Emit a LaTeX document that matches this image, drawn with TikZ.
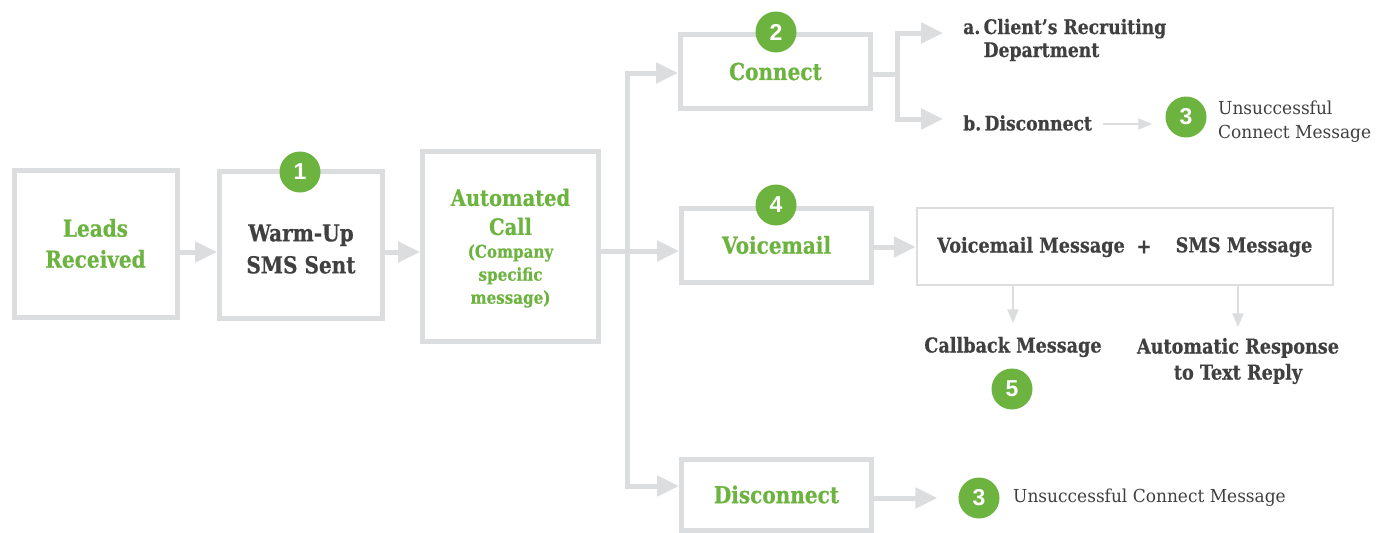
\documentclass[tikz,border=0pt]{standalone}
\usepackage{fontspec}
\setmainfont{DejaVu Serif}[FakeStretch=0.86, BoldFeatures={FakeBold=0.6}]
\newfontfamily\regfont{DejaVu Serif}[FakeStretch=0.95]
\newfontfamily\numfont{Liberation Sans}
\usetikzlibrary{arrows.meta,calc}
\definecolor{grn}{HTML}{6DB33F}
\definecolor{gry}{HTML}{DCDDDE}
\definecolor{txt}{HTML}{404040}
\tikzset{
  box/.style={draw=gry, line width=5pt, fill=white, inner sep=0pt, align=center},
  ttl/.style={text=grn, font=\bfseries\fontsize{23.3}{31}\selectfont, align=center},
  dk/.style={text=txt, font=\bfseries\fontsize{20.5}{26}\selectfont, inner sep=0pt, align=center},
  reg/.style={text=txt, font=\regfont\fontsize{17.9}{24}\selectfont, inner sep=0pt, align=left},
  num/.style={circle, fill=grn, minimum size=41pt, inner sep=0pt, text=white, font=\numfont\bfseries\fontsize{23}{23}\selectfont},
  gline/.style={draw=gry, line width=5pt},
  arr/.style={draw=gry, line width=5pt, -{Triangle[length=22pt,width=20pt]}},
  tarr/.style={draw=gry, line width=2pt, -{Triangle[length=14pt,width=11pt]}}
}
\begin{document}
\begin{tikzpicture}[x=1pt,y=-1pt]
\useasboundingbox[fill=white] (0,0) rectangle (1385,533);

% main boxes
\node[box, minimum width=163pt, minimum height=147pt, ttl] (leads) at (95.5,243.5) {Leads\\Received};
\node[box, minimum width=163pt, minimum height=147pt] (warm) at (301,245) {};
\node[text=txt, font=\bfseries\fontsize{23.3}{32}\selectfont, align=center, inner sep=0pt] (warmt) at (301,249) {Warm-Up\\SMS Sent};
\node[box, minimum width=176pt, minimum height=190pt] (auto) at (510.5,246.5) {};
\node[ttl, font=\bfseries\fontsize{22.6}{29}\selectfont, inner sep=0pt] (autot) at (510.5,212) {Automated\\Call};
\node[ttl, font=\bfseries\fontsize{17.6}{23}\selectfont, inner sep=0pt] (autos) at (510.5,276) {(Company\\specific\\message)};
\node[box, minimum width=190pt, minimum height=74pt, ttl] (connect) at (775.5,71.5) {Connect};
\node[box, minimum width=190pt, minimum height=74pt, ttl] (voice) at (776.5,245) {Voicemail};
\node[box, minimum width=190pt, minimum height=71pt, ttl] (disc) at (776.5,494.5) {Disconnect};

% numbers
\node[num] (n1) at (300,172) {1};
\node[num] (n2) at (776,32) {2};
\node[num] (n4) at (776,205) {4};

% connectors main chain
\draw[arr] ([yshift=-8.5pt]leads.east) -- ([yshift=-7pt]warm.west);
\draw[arr] ([yshift=-7pt]warm.east) -- ([yshift=-7pt]warm.east -| auto.west);
\coordinate (j) at (627,251);
\draw[gline] (auto.east |- j) -- (j);
\draw[arr] (j) |- ([yshift=-1.5pt]connect.west);
\draw[arr] (j) -- (j -| voice.west);
\draw[arr] (j) |- ([yshift=8.5pt]disc.west);

% connect branch
\coordinate (br) at ($(connect.east)+(24,2.5)$);
\coordinate (ta) at (943,33);
\coordinate (tb) at (943,119);
\draw[gline] ([yshift=-2.5pt]connect.east) -- (br);
\draw[arr] (br) |- (ta);
\draw[arr] (br) |- (tb);
\node[dk, anchor=west, align=left, font=\bfseries\fontsize{20}{23}\selectfont] (na) at (963,40) {a.\,Client’s Recruiting\\\hphantom{a.\,}Department};
\node[dk, anchor=west, font=\bfseries\fontsize{20}{26}\selectfont] (nb) at (963,123) {b.\,Disconnect};
\node[num] (n3a) at (1186,117) {3};
\node[reg, anchor=west] (uc1) at (1218,122) {Unsuccessful\\Connect Message};
\draw[tarr, shorten <=11pt, shorten >=13pt] ([yshift=-1pt]nb.east) -- ([yshift=-1pt]nb.east -| n3a.west);

% voicemail branch
\node[draw=gry, line width=2.5pt, minimum width=416pt, minimum height=77pt, inner sep=0pt] (big) at (1125,246.5) {};
\draw[arr] ([yshift=-2pt]voice.east) -- ([yshift=-2pt]voice.east -| big.west);
\node[dk] (vm) at (1031,247) {Voicemail Message};
\node[dk] (plus) at (1144,247) {+};
\node[dk] (sms) at (1244,247) {SMS Message};
\node[dk] (cb) at (1013,347) {Callback Message};
\node[num] (n5) at (1012,389) {5};
\node[dk] (resp) at (1238,361) {Automatic Response\\to Text Reply};
\draw[tarr] (cb.north |- big.south) -- ++(0,37);
\draw[tarr] (resp.north |- big.south) -- ++(0,41);

% disconnect branch
\node[num] (n3b) at (979,498) {3};
\node[reg, anchor=west] (uc2) at (1013,498) {Unsuccessful Connect Message};
\draw[arr, shorten >=21pt] ([yshift=-3.5pt]disc.east) -- (n3b.west);
\end{tikzpicture}
\end{document}
